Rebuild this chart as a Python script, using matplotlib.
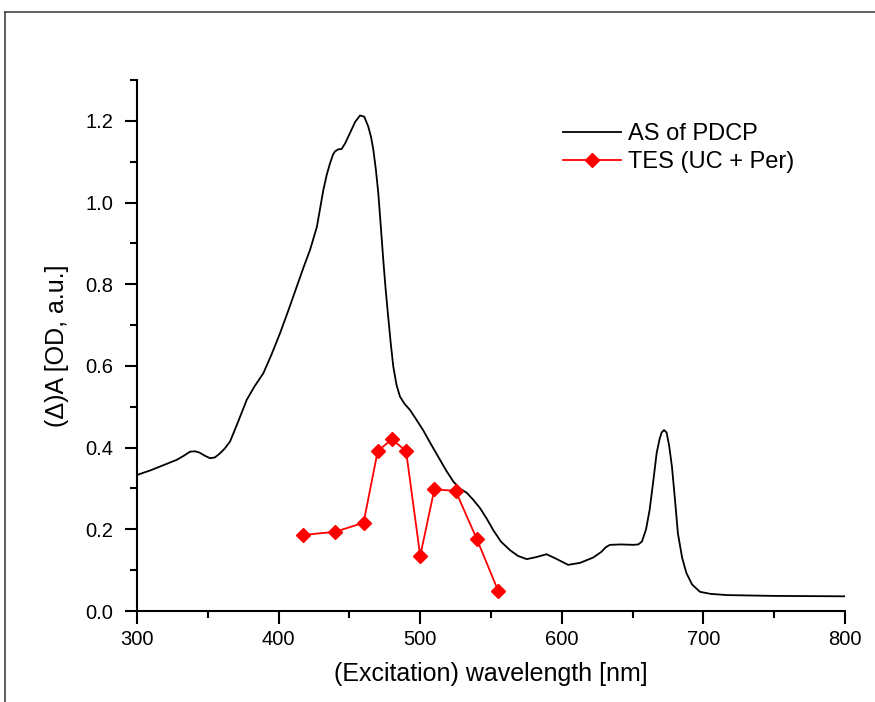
import matplotlib
matplotlib.use("Agg")
import matplotlib.pyplot as plt
from matplotlib.lines import Line2D
from matplotlib.ticker import MultipleLocator

# absorption spectrum of PDCP
as_wl = [300, 310, 318.6, 328, 333, 337.4, 341, 344, 348, 351.6, 355, 358.6, 362, 365.7,
         371, 377.5, 383, 389.2, 395, 401, 407, 412.8, 418, 422.2, 427, 431.6, 434,
         436.3, 438.5, 439.8, 442, 444.5, 447, 450.4, 454, 457.5, 460.5, 463.3, 465.3,
         466.9, 468.7, 470.4, 472.2, 473.9, 475.6, 477.4, 479.2, 481, 483.3, 485.7,
         489, 492.8, 497, 502, 508, 514, 518.5, 523.4, 528, 533, 537.5, 542.2, 547,
         551.6, 557, 563.4, 569, 575.2, 582, 589.2, 596, 604.5, 613, 622.2, 628, 631,
         634, 642, 650.5, 654, 656.6, 659.5, 662, 664.5, 667, 669, 670.5, 672.2, 674,
         675.8, 677.8, 680, 682, 685, 688, 692, 697.6, 705, 716.7, 750, 800]
as_od = [0.333, 0.345, 0.357, 0.37, 0.38, 0.39, 0.391, 0.388, 0.38, 0.374, 0.376, 0.386,
         0.398, 0.415, 0.46, 0.517, 0.55, 0.582, 0.628, 0.68, 0.737, 0.794, 0.845,
         0.884, 0.94, 1.031, 1.068, 1.096, 1.118, 1.125, 1.13, 1.131, 1.145, 1.17,
         1.197, 1.213, 1.21, 1.186, 1.16, 1.129, 1.08, 1.023, 0.94, 0.86, 0.787, 0.72,
         0.655, 0.598, 0.553, 0.525, 0.507, 0.492, 0.47, 0.443, 0.406, 0.37, 0.343,
         0.317, 0.3, 0.289, 0.272, 0.252, 0.226, 0.198, 0.17, 0.149, 0.135, 0.127, 0.132,
         0.139, 0.128, 0.113, 0.118, 0.131, 0.145, 0.156, 0.162, 0.163, 0.162, 0.163,
         0.17, 0.2, 0.247, 0.315, 0.387, 0.42, 0.437, 0.443, 0.437, 0.405, 0.353, 0.27,
         0.19, 0.13, 0.093, 0.065, 0.047, 0.042, 0.039, 0.037, 0.036]

# triplet excitation spectrum (UC + Per)
tes_wl = [417, 440, 460, 470, 480, 490, 500, 510, 525, 540, 555]
tes_val = [0.186, 0.194, 0.216, 0.392, 0.42, 0.392, 0.135, 0.298, 0.294, 0.176, 0.05]

plt.rcParams["font.family"] = ["Liberation Sans", "DejaVu Sans"]

fig = plt.figure(figsize=(8.75, 7.02), dpi=100)
ax = fig.add_axes([0.1566, 0.1296, 0.8091, 0.7565])

ax.plot(as_wl, as_od, color="black", lw=1.3, label="AS of PDCP")
ax.plot(tes_wl, tes_val, color="red", lw=1.3, marker="D", markersize=7,
        markeredgecolor="red", label="TES (UC + Per)")

ax.set_xlim(300, 800)
ax.set_ylim(0, 1.3)
ax.xaxis.set_major_locator(MultipleLocator(100))
ax.xaxis.set_minor_locator(MultipleLocator(50))
ax.yaxis.set_major_locator(MultipleLocator(0.2))
ax.yaxis.set_minor_locator(MultipleLocator(0.1))
ax.yaxis.set_major_formatter(plt.FormatStrFormatter("%.1f"))

for side in ["top", "right"]:
    ax.spines[side].set_visible(False)
for side in ["left", "bottom"]:
    ax.spines[side].set_linewidth(1.5)
ax.tick_params(which="major", direction="out", length=9, width=1.5, labelsize=14.5)
ax.tick_params(axis="y", which="major", pad=8)
ax.tick_params(axis="x", which="major", pad=5)
ax.tick_params(which="minor", direction="out", length=5, width=1.5)

ax.set_xlabel("(Excitation) wavelength [nm]", fontsize=18, labelpad=9)
ax.set_ylabel("(Δ)A [OD, a.u.]", fontsize=18, labelpad=12)

ax.legend(loc="upper left", bbox_to_anchor=(0.633, 0.838), bbox_transform=fig.transFigure,
          frameon=False, fontsize=17, handlelength=2.45, handletextpad=0.3,
          labelspacing=0.25, borderaxespad=0)

# partial frame around the figure
fig.add_artist(Line2D([0.0057, 0.0057], [0.0, 0.983], color="#444444", lw=1.2,
                      transform=fig.transFigure))
fig.add_artist(Line2D([0.0057, 1.0], [0.983, 0.983], color="#444444", lw=1.2,
                      transform=fig.transFigure))

fig.savefig("out.png", dpi=100)
